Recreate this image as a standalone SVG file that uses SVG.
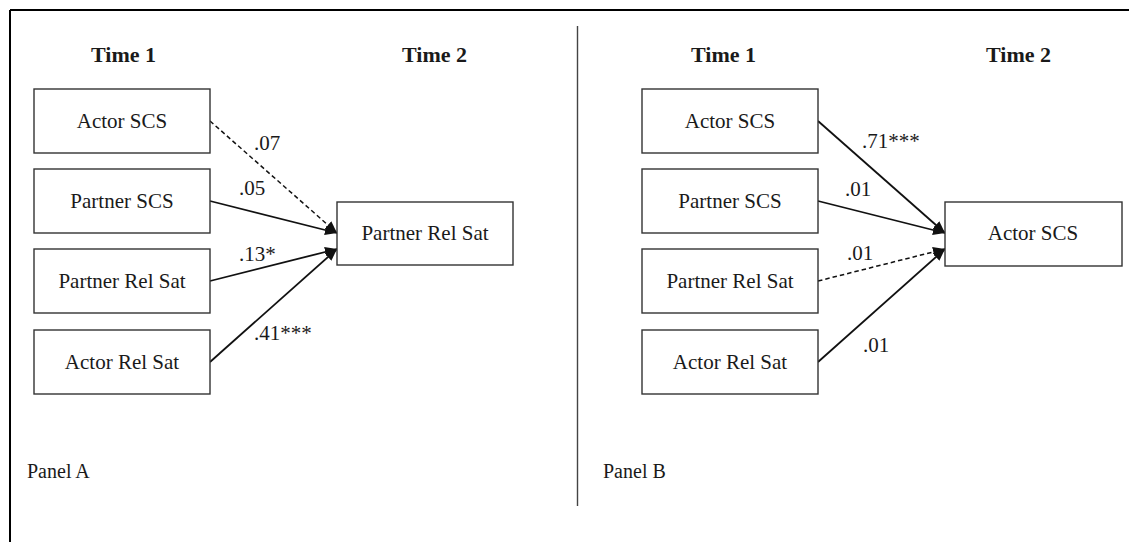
<svg xmlns="http://www.w3.org/2000/svg" width="1129" height="542" viewBox="0 0 1129 542">
<style>
text{font-family:"Liberation Serif","DejaVu Serif",serif;fill:#1a1a1a}
.hdr{font-size:22px;font-weight:bold}
.box rect{fill:#fff;stroke:#333;stroke-width:1.4}
.box text{font-size:21px;text-anchor:middle}
.lbl{font-size:21px}
.pnl{font-size:20px}
.c{stroke:#111;stroke-width:1.8;fill:none;marker-end:url(#ah)}
.d{stroke-dasharray:4.5 3;stroke-width:1.5}
</style>
<defs>
<marker id="ah" markerUnits="userSpaceOnUse" markerWidth="12" markerHeight="10" refX="12" refY="5" orient="auto">
<path d="M0,0 L12,5 L0,10 z" fill="#111"/>
</marker>
</defs>
<rect x="0" y="0" width="1129" height="542" fill="#fff"/>
<g id="frame">
<line x1="10" y1="10" x2="1129" y2="10" stroke="#000" stroke-width="2"/>
<line x1="10" y1="10" x2="10" y2="542" stroke="#000" stroke-width="2"/>
<line x1="577.5" y1="26" x2="577.5" y2="506" stroke="#444" stroke-width="1.4"/>
</g>
<g id="headers">
<text class="hdr" x="91" y="62">Time 1</text>
<text class="hdr" x="402" y="62">Time 2</text>
<text class="hdr" x="691" y="62">Time 1</text>
<text class="hdr" x="986" y="62">Time 2</text>
<text class="pnl" x="27" y="478">Panel A</text>
<text class="pnl" x="603" y="478">Panel B</text>
</g>
<g id="connectors">
<line class="c d" x1="210" y1="121" x2="337" y2="233"/>
<line class="c" x1="210" y1="201" x2="337" y2="233"/>
<line class="c" x1="210" y1="281" x2="337" y2="249"/>
<line class="c" x1="210" y1="362" x2="337" y2="249"/>
<line class="c" x1="818" y1="121" x2="945" y2="233"/>
<line class="c" x1="818" y1="201" x2="945" y2="233"/>
<line class="c d" x1="818" y1="281" x2="945" y2="249"/>
<line class="c" x1="818" y1="362" x2="945" y2="249"/>
</g>
<g id="labels">
<text class="lbl" x="254" y="150">.07</text>
<text class="lbl" x="239" y="195">.05</text>
<text class="lbl" x="239" y="261">.13*</text>
<text class="lbl" x="254" y="340">.41***</text>
<text class="lbl" x="862" y="148">.71***</text>
<text class="lbl" x="845" y="196">.01</text>
<text class="lbl" x="847" y="260">.01</text>
<text class="lbl" x="863" y="352">.01</text>
</g>
<g id="a-actor-scs" class="box"><rect x="34" y="89" width="176" height="64"/><text x="122" y="128">Actor SCS</text></g>
<g id="a-partner-scs" class="box"><rect x="34" y="169" width="176" height="64"/><text x="122" y="208">Partner SCS</text></g>
<g id="a-partner-relsat" class="box"><rect x="34" y="249" width="176" height="64"/><text x="122" y="288">Partner Rel Sat</text></g>
<g id="a-actor-relsat" class="box"><rect x="34" y="330" width="176" height="64"/><text x="122" y="369">Actor Rel Sat</text></g>
<g id="a-target" class="box"><rect x="337" y="202" width="176" height="63"/><text x="425" y="240">Partner Rel Sat</text></g>
<g id="b-actor-scs" class="box"><rect x="642" y="89" width="176" height="64"/><text x="730" y="128">Actor SCS</text></g>
<g id="b-partner-scs" class="box"><rect x="642" y="169" width="176" height="64"/><text x="730" y="208">Partner SCS</text></g>
<g id="b-partner-relsat" class="box"><rect x="642" y="249" width="176" height="64"/><text x="730" y="288">Partner Rel Sat</text></g>
<g id="b-actor-relsat" class="box"><rect x="642" y="330" width="176" height="64"/><text x="730" y="369">Actor Rel Sat</text></g>
<g id="b-target" class="box"><rect x="945" y="202" width="177" height="64"/><text x="1033" y="240">Actor SCS</text></g>
</svg>
